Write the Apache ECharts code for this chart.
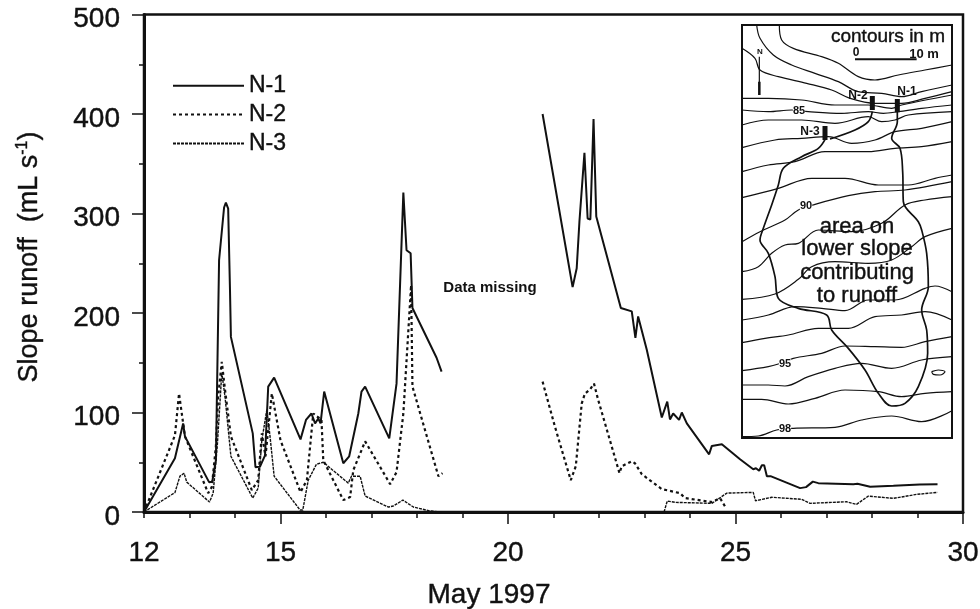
<!DOCTYPE html>
<html>
<head>
<meta charset="utf-8">
<title>Slope runoff May 1997</title>
<script src="https://cdn.jsdelivr.net/npm/echarts@6/dist/echarts.min.js"></script>
<style>
html, body { margin: 0; padding: 0; background: #fff; }
#chart { width: 980px; height: 609px; }
</style>
</head>
<body>
<div id="chart"></div>
<script>
const xTickLabels = [12, 15, 20, 25, 30];
const xLongTicks = [15, 20, 25, 30];

// [day of May, runoff in mL/s]. Each trace has a gap where data is missing.
const n1Early = [[12,0],[12.68,54],[12.86,89],[12.9,76],[13.43,30],[13.5,30.5],[13.58,52],[13.65,253],[13.76,306],[13.8,311],[13.85,305],[13.89,223],[13.91,176],[14.39,79],[14.45,45],[14.55,45.6],[14.66,57],[14.73,126],[14.86,135],[15.44,73],[15.56,92.5],[15.68,99],[15.76,89],[15.83,94],[15.88,89],[15.96,121],[16.38,49],[16.51,56],[16.71,99],[16.78,121],[16.86,126],[17.39,74],[17.55,129],[17.7,321],[17.77,263],[17.86,260],[17.9,205],[18.43,155],[18.54,141]];
const n1Late = [[20.76,400],[21.42,226],[21.51,245],[21.57,292],[21.68,361],[21.75,295],[21.81,294],[21.88,395],[21.94,297],[22.48,205],[22.72,201.6],[22.8,175],[22.86,196.5],[23.05,163],[23.38,95],[23.5,111],[23.56,93],[23.63,99],[23.76,92.6],[23.82,100],[23.93,89],[24.42,58],[24.48,66.4],[24.7,68],[25.1,53],[25.39,43],[25.45,44],[25.52,41.5],[25.58,47],[25.63,47],[25.69,36],[25.77,36],[26.42,24],[26.55,25],[26.7,30.5],[26.82,29],[27.59,28],[27.68,28.3],[27.96,25.3],[28.47,26.3],[29.05,27.7],[29.44,28]];
const n2Early = [[12,0],[12.68,77],[12.77,119],[12.9,76],[13.41,19],[13.49,25],[13.58,66],[13.63,116],[13.71,151],[13.78,123],[13.91,76],[14.37,22],[14.51,32],[14.59,79],[14.67,56],[14.81,119],[15,72],[15.44,20],[15.58,32],[15.72,99],[15.8,96],[15.9,93],[15.94,52],[16.38,12],[16.53,15],[16.6,42],[16.86,71],[17.41,28],[17.55,40],[17.7,99],[17.87,228],[17.9,126],[18.47,36],[18.56,39]];
const n2Late = [[20.76,131],[21.03,86],[21.38,32],[21.49,46],[21.62,109],[21.69,119],[21.8,123],[21.89,129],[21.98,113],[22.45,39],[22.5,46],[22.72,51],[22.79,49],[22.94,38],[23.38,23],[23.78,19],[23.89,14],[24.48,10],[24.66,14],[24.79,4]];
const n3Early = [[12,0],[12.68,19.5],[12.79,36],[12.88,39],[12.94,30],[13.44,10],[13.52,19],[13.61,66],[13.71,140],[13.78,116],[13.91,56],[14.39,14],[14.51,24],[14.59,72],[14.7,103],[14.77,76],[14.86,36],[15.43,2],[15.49,2],[15.61,32],[15.79,48],[15.94,50],[16.49,29],[16.56,36],[16.75,36],[16.86,16],[17.37,5],[17.48,6],[17.69,12],[17.92,5],[18.29,1],[18.54,0]];
const n3Late = [[23.43,0],[23.5,11],[23.67,9.7],[24.48,8.7],[24.81,19],[25.39,19.7],[25.44,11.3],[25.8,14.8],[26.45,12.8],[26.64,8.7],[27.44,10.3],[27.66,7.7],[27.92,16],[28.47,13.7],[28.98,17.7],[29.44,19.7]];

// site map, in map units of the inset (0-630 across, 0-1239 down)
const contours = [
    [[112,0],[119,45],[154,70],[239,95],[289,115],[349,155],[399,165],[469,150],[549,135],[630,120]],
    [[44,0],[54,40],[94,90],[149,120],[219,145],[289,170],[349,200],[419,205],[479,215],[539,200],[630,180]],
    [[0,70],[39,100],[54,135],[109,155],[194,175],[269,195],[324,220],[399,235],[479,235],[549,220],[630,200]],
    [[0,220],[79,220],[179,225],[279,240],[379,240],[449,250],[479,240],[630,210]],
    [[0,255],[79,260],[149,255],[199,260],[299,265],[379,260],[424,265],[469,260],[539,250],[630,240]],
    [[0,300],[79,285],[179,285],[279,295],[379,275],[419,290],[459,285],[499,270],[630,260]],
    [[0,368],[99,345],[179,340],[259,335],[329,355],[399,345],[459,320],[539,310],[630,290]],
    [[0,440],[79,420],[159,410],[249,380],[379,380],[459,370],[539,365],[630,350]],
    [[0,518],[109,490],[209,460],[309,460],[409,480],[499,480],[579,460],[630,450]],
    [[0,650],[54,620],[129,585],[169,555],[219,538],[319,512],[399,500],[489,495],[630,470]],
    [[0,740],[49,725],[89,685],[129,660],[169,655],[229,615],[329,620],[419,595],[489,540],[549,525],[630,515]],
    [[0,823],[99,807],[169,763],[209,725],[279,710],[379,715],[449,705],[509,665],[549,635],[630,610]],
    [[0,885],[79,870],[159,845],[239,850],[309,857],[379,825],[459,825],[549,790],[579,783],[630,800]],
    [[0,953],[69,940],[139,930],[229,910],[319,910],[399,875],[479,870],[549,860],[630,885]],
    [[0,1037],[79,1025],[109,1017],[154,1000],[239,985],[309,963],[399,965],[479,967],[549,950],[630,935]],
    [[0,1080],[79,1080],[129,1083],[199,1055],[279,1030],[359,1015],[449,1030],[539,1005],[630,995]],
    [[0,1123],[59,1123],[139,1137],[219,1120],[309,1095],[409,1100],[479,1115],[549,1105],[630,1100]],
    [[0,1235],[49,1233],[104,1215],[154,1210],[279,1207],[359,1185],[449,1173],[539,1190],[630,1157]],
    [[569,1040],[589,1035],[609,1040],[594,1050],[574,1048],[569,1040]]
];
const areaBoundary = [[466,260],[466,290],[449,340],[474,370],[482,440],[484,530],[529,590],[539,615],[554,685],[559,785],[539,855],[554,915],[557,985],[529,1085],[489,1135],[449,1143],[409,1105],[369,1035],[319,970],[269,915],[254,870],[169,850],[109,820],[99,755],[79,685],[54,645],[64,610],[89,540],[109,480],[124,430],[179,395],[229,370],[251,340]];
const seepLine = [[264,342],[339,315],[379,290],[391,260]];
const wells = [
    [[391,213],[391,255]],
    [[466,222],[466,262]],
    [[249,303],[249,345]]
];
const northArrow = [[52,95],[52,210]];
const northArrowTail = [[52,170],[52,210]];
const scaleBar = [[339,103],[524,103]];

const FONT = '"Liberation Sans", Arial, sans-serif';
const INK = '#111';

function trace (name, data, lineStyle, axisIndex) {
    return {
        name: name,
        type: 'line',
        xAxisIndex: axisIndex || 0,
        yAxisIndex: axisIndex || 0,
        data: data,
        symbol: 'none',
        smooth: false,
        lineStyle: lineStyle,
        itemStyle: { color: INK },
        clip: false,
        z: 3
    };
}

function mapLine (data, width, smooth) {
    return {
        type: 'line',
        xAxisIndex: 2,
        yAxisIndex: 2,
        data: data,
        symbol: 'none',
        silent: true,
        smooth: smooth || false,
        lineStyle: { color: INK, width: width },
        z: 4
    };
}

function note (x, y, text, size, extra, rotation) {
    return {
        type: 'text',
        x: x,
        y: y,
        z: 20,
        rotation: rotation || 0,
        style: Object.assign({
            text: text,
            font: size + 'px ' + FONT,
            fill: INK,
            stroke: INK,
            lineWidth: 0.4,
            align: 'center',
            verticalAlign: 'middle'
        }, extra || {})
    };
}

const solid = { color: INK, width: 2, type: 'solid' };
const dashed = { color: INK, width: 2.2, type: [3, 3] };
const dotted = { color: INK, width: 1.4, type: [3, 1] };

// N-3 sits on the second, same-sized axis pair, that pair draws the long ticks
const series = [
    trace('N-1', n1Early, solid),
    trace('N-1', n1Late, solid),
    trace('N-2', n2Early, dashed),
    trace('N-2', n2Late, dashed),
    trace('N-3', n3Early, dotted, 1),
    trace('N-3', n3Late, dotted, 1)
];
contours.forEach(c => series.push(mapLine(c, 1.2, 0.35)));
series.push(mapLine(areaBoundary, 1.7, 0.35));
series.push(mapLine(seepLine, 1.7, 0.35));
wells.forEach(w => series.push(mapLine(w, 5)));
series.push(mapLine(northArrow, 1.2));
series.push(mapLine(northArrowTail, 2.5));
series.push(mapLine(scaleBar, 2));

const plotRect = { left: 144, top: 14.5, width: 819, height: 497.5, outerBoundsMode: 'none' };

const chart = echarts.init(document.getElementById('chart'));
chart.setOption({
    animation: false,
    backgroundColor: '#fff',
    textStyle: { fontFamily: FONT, color: INK },
    legend: {
        data: ['N-1', 'N-2', 'N-3'],
        orient: 'vertical',
        left: 172,
        top: 74,
        padding: 0,
        itemWidth: 71,
        itemHeight: 14,
        itemGap: 5.5,
        selectedMode: false,
        itemStyle: { color: 'transparent', borderColor: 'transparent', borderWidth: 0 },
        textStyle: { fontSize: 23, color: INK, fontFamily: FONT, textBorderColor: INK, textBorderWidth: 0.4 }
    },
    grid: [
        Object.assign({ show: true, borderColor: INK, borderWidth: 2.5 }, plotRect),
        Object.assign({}, plotRect),
        { left: 742, top: 25, width: 210, height: 413, show: true, backgroundColor: '#fff', borderColor: INK, borderWidth: 2, outerBoundsMode: 'none', z: 2 }
    ],
    xAxis: [
        {
            // short tick on every day, only some days get a label
            type: 'value',
            gridIndex: 0,
            min: 12,
            max: 30,
            interval: 1,
            axisLine: { lineStyle: { color: INK, width: 3 } },
            axisTick: { show: true, length: 6, lineStyle: { color: INK, width: 1.5 } },
            axisLabel: {
                formatter: v => xTickLabels.indexOf(v) >= 0 ? String(v) : '',
                hideOverlap: false,
                fontSize: 28,
                color: INK,
                margin: 27,
                fontFamily: FONT,
                textBorderColor: INK,
                textBorderWidth: 0.4
            },
            splitLine: { show: false }
        },
        {
            type: 'value',
            gridIndex: 1,
            min: 12,
            max: 30,
            axisLine: { show: true, lineStyle: { color: INK, width: 1 } },
            axisTick: { show: true, customValues: xLongTicks, length: 12, lineStyle: { color: INK, width: 1.5 } },
            axisLabel: { show: false },
            splitLine: { show: false }
        },
        { type: 'value', gridIndex: 2, min: 0, max: 630, show: false }
    ],
    yAxis: [
        {
            type: 'value',
            gridIndex: 0,
            min: 0,
            max: 500,
            interval: 100,
            axisLine: { show: true, lineStyle: { color: INK, width: 3 } },
            axisTick: { show: true, length: 12, lineStyle: { color: INK, width: 1.5 } },
            minorTick: { show: true, splitNumber: 2, length: 5, lineStyle: { color: INK, width: 1.5 } },
            axisLabel: { fontSize: 28, color: INK, margin: 24, verticalAlign: 'top', lineHeight: 10, fontFamily: FONT, textBorderColor: INK, textBorderWidth: 0.4 },
            splitLine: { show: false }
        },
        { type: 'value', gridIndex: 1, min: 0, max: 500, show: false },
        { type: 'value', gridIndex: 2, min: 0, max: 1239, inverse: true, show: false }
    ],
    series: series,
    graphic: [
        note(489, 595, 'May 1997', 28),
        note(30, 257, '{t|Slope runoff  (mL s}{s|-1}{t|)}', 27, {
            rich: {
                t: { fontSize: 27, fontFamily: FONT, fill: INK, lineHeight: 30 },
                s: { fontSize: 16, fontFamily: FONT, fill: INK, lineHeight: 30, verticalAlign: 'top' }
            }
        }, Math.PI / 2),
        note(490, 288, 'Data missing', 15, { font: 'bold 15px ' + FONT, lineWidth: 0 }),
        note(888, 37, 'contours in m', 19),
        note(857, 227, 'area on', 22),
        note(857, 249, 'lower slope', 22),
        note(857, 273, 'contributing', 22),
        note(857, 296, 'to runoff', 22),
        note(799, 111, '85', 11, { font: 'bold 11px ' + FONT, backgroundColor: '#fff', lineWidth: 0 }),
        note(806, 206, '90', 11, { font: 'bold 11px ' + FONT, backgroundColor: '#fff', lineWidth: 0 }),
        note(785, 364, '95', 11, { font: 'bold 11px ' + FONT, backgroundColor: '#fff', lineWidth: 0 }),
        note(785, 429, '98', 11, { font: 'bold 11px ' + FONT, backgroundColor: '#fff', lineWidth: 0 }),
        note(858, 96, 'N-2', 12, { font: 'bold 12px ' + FONT, lineWidth: 0 }),
        note(907, 92, 'N-1', 12, { font: 'bold 12px ' + FONT, lineWidth: 0 }),
        note(810, 132, 'N-3', 12, { font: 'bold 12px ' + FONT, lineWidth: 0 }),
        note(760, 52, 'N', 8, { font: 'bold 8px ' + FONT, lineWidth: 0 }),
        note(856, 53, '0', 12, { font: 'bold 12px ' + FONT, lineWidth: 0 }),
        note(924, 54, '10 m', 13, { font: 'bold 13px ' + FONT, lineWidth: 0 })
    ]
});
</script>
</body>
</html>
